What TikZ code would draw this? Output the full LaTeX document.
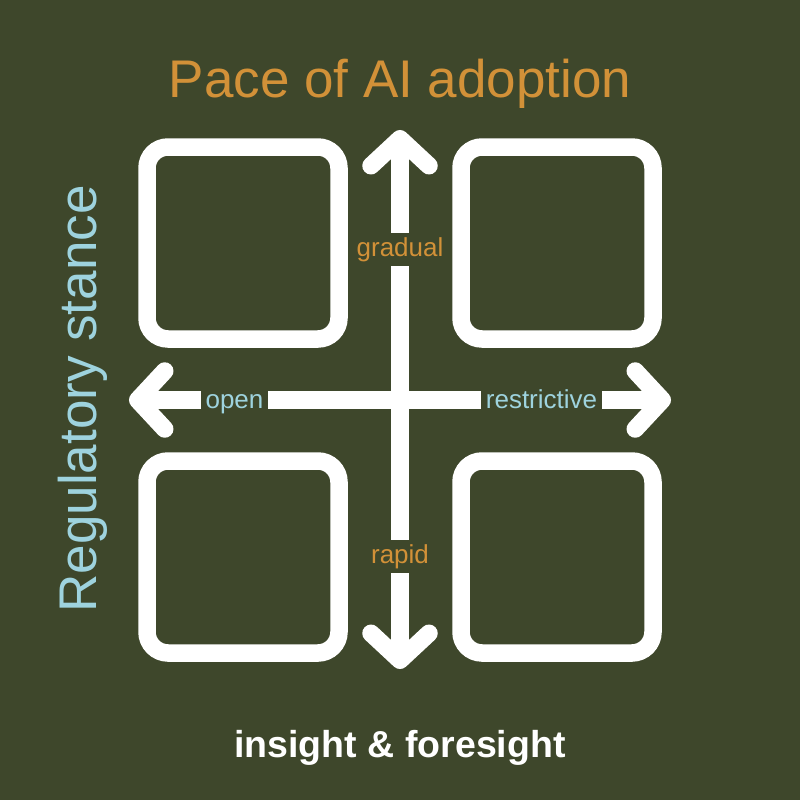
\documentclass[tikz,border=0pt]{standalone}
\usepackage{fontspec}
\setmainfont{Liberation Sans}
\usetikzlibrary{arrows.meta}
\definecolor{olivebg}{RGB}{62,71,43}
\definecolor{paceorange}{RGB}{210,145,56}
\definecolor{stanceblue}{RGB}{158,211,222}
\tikzset{
  quadbox/.style={draw=white, line width=17.5pt, rounded corners=21pt,
    minimum size=192pt, inner sep=0pt},
  axis/.style={draw=white, line width=17.5pt,
    {Straight Barb[round, length=27pt, width=58pt]}-{Straight Barb[round, length=27pt, width=58pt]}},
  axislabel/.style={fill=olivebg, inner xsep=5pt, inner ysep=4pt,
    font=\fontsize{26}{30}\selectfont}
}
\begin{document}
\begin{tikzpicture}[x=1pt, y=-1pt]
      \fill[olivebg] (0,0) rectangle (800,800);
      \useasboundingbox (0,0) rectangle (800,800);
      % quadrants
      \node[quadbox] (q1) at (243,243) {};
      \node[quadbox] (q2) at (557,243) {};
      \node[quadbox] (q3) at (243,557) {};
      \node[quadbox] (q4) at (557,557) {};
      % axes
      \coordinate (top) at (400,130);
      \coordinate (bottom) at (400,669);
      \coordinate (left) at (129,400);
      \coordinate (right) at (671,400);
      \draw[axis] (top) -- (bottom);
      \draw[axis] (left) -- (right);
      \node[axislabel, text=paceorange] (gradual) at (400,249.5) {gradual};
      \node[axislabel, text=paceorange] (rapid) at (400,556.5) {rapid};
      \node[axislabel, anchor=base, text=stanceblue] (open) at (234.5,408.5) {open};
      \node[axislabel, anchor=base, text=stanceblue] (restrictive) at (541.5,408.5) {restrictive};
      % titles
      \node[anchor=base, text=paceorange, font=\fontsize{53}{60}\selectfont]
        (pace) at (400,97) {Pace of AI adoption};
      \node[anchor=base, rotate=90, text=stanceblue, font=\fontsize{53}{60}\selectfont]
        (stance) at (96,399) {Regulatory stance};
      \node[anchor=base, text=white, font=\fontsize{37.5}{42}\selectfont\bfseries]
        (brand) at (400,757) {insight \& foresight};
    \end{tikzpicture}
\end{document}
